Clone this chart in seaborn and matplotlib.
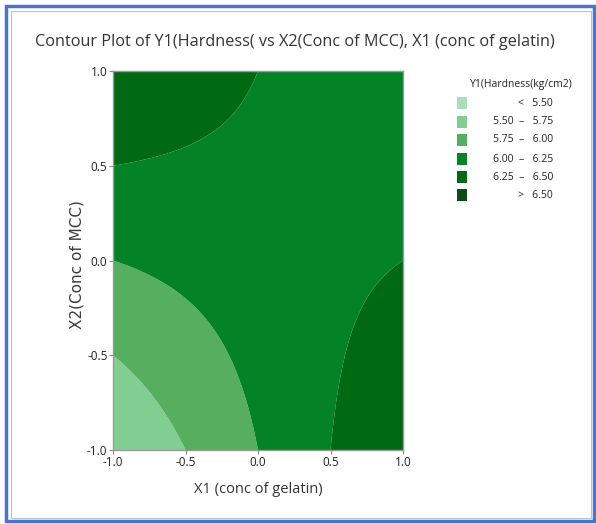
import numpy as np
import matplotlib
matplotlib.use("Agg")
import matplotlib.pyplot as plt
import seaborn as sns
from matplotlib.patches import Rectangle

sns.set_theme(style="white")
plt.rcParams['font.family'] = ['Open Sans', 'DejaVu Sans']

coef_names = ["b0", "b1", "b2", "b12"]
coef_values = [6.125, 0.125, 0.125, -0.375]
x1_range = [-1.0, 1.0]
x2_range = [-1.0, 1.0]
levels = [5.25, 5.50, 5.75, 6.00, 6.25, 6.50, 6.75]
level_colors = ["#a6dfb9", "#82cd91", "#55af5f", "#038326", "#006a12", "#0b4d17"]
legend_labels = ["<   5.50", "5.50  –   5.75", "5.75  –   6.00",
                 "6.00  –   6.25", "6.25  –   6.50", ">   6.50"]
ticks = [-1.0, -0.5, 0.0, 0.5, 1.0]
tick_labels = ["-1.0", "-0.5", "0.0", "0.5", "1.0"]

W, H = 596, 524
fig = plt.figure(figsize=(W / 100, H / 100), dpi=100)

def fx(x):
    return x / W

def fy(y):
    return 1 - y / H

ax = fig.add_axes([fx(113), fy(450), fx(403) - fx(113), fy(71) - fy(450)])

c = dict(zip(coef_names, coef_values))
g1 = np.linspace(x1_range[0], x1_range[1], 301)
g2 = np.linspace(x2_range[0], x2_range[1], 301)
X1, X2 = np.meshgrid(g1, g2)
Y = c["b0"] + c["b1"] * X1 + c["b2"] * X2 + c["b12"] * X1 * X2

ax.contourf(X1, X2, Y, levels=levels, colors=level_colors, antialiased=True)
ax.set_xlim(x1_range)
ax.set_ylim(x2_range)
ax.set_xticks(ticks)
ax.set_xticklabels(tick_labels)
ax.set_yticks(ticks)
ax.set_yticklabels(tick_labels)
ax.tick_params(axis="both", which="both", direction="out", length=3, width=0.8,
               color="#888888", labelsize=8.5, labelcolor="#222222", pad=1,
               bottom=True, left=True)
for s in ax.spines.values():
    s.set_color("#999999")
    s.set_linewidth(1.0)

ax.set_xlabel("X1 (conc of gelatin)", fontsize=10.5, color="#333333", labelpad=10)
fig.text(fx(77), fy(265), "X2(Conc of MCC)", rotation=90, ha="center", va="center",
         fontsize=11, color="#3a3a3a", fontweight="normal", family=["DejaVu Sans"])

fig.text(fx(295), fy(42), "Contour Plot of Y1(Hardness( vs X2(Conc of MCC), X1 (conc of gelatin)",
         ha="center", va="center", fontsize=11.7, color="#333333")

# legend
fig.text(fx(521), fy(85), "Y1(Hardness(kg/cm2)", ha="center", va="center",
         fontsize=7.5, color="#222222")
row_y = [103, 122, 140, 159, 177, 195]
for yy, col, lab in zip(row_y, level_colors, legend_labels):
    fig.patches.append(Rectangle((fx(457), fy(yy + 6)), fx(10), 12 / H,
                                 transform=fig.transFigure, facecolor=col,
                                 edgecolor="none"))
    fig.text(fx(553), fy(yy), lab, ha="right", va="center", fontsize=7.5,
             color="#222222")

# frame around image
fig.patches.append(Rectangle((fx(6), fy(521)), fx(588), 515 / H, transform=fig.transFigure,
                             facecolor="none", edgecolor="#4a74c9", linewidth=2.5))
fig.patches.append(Rectangle((fx(11), fy(518)), fx(580), 507 / H, transform=fig.transFigure,
                             facecolor="none", edgecolor="#b4c2dc", linewidth=0.8))

fig.savefig("out.png", dpi=100)
